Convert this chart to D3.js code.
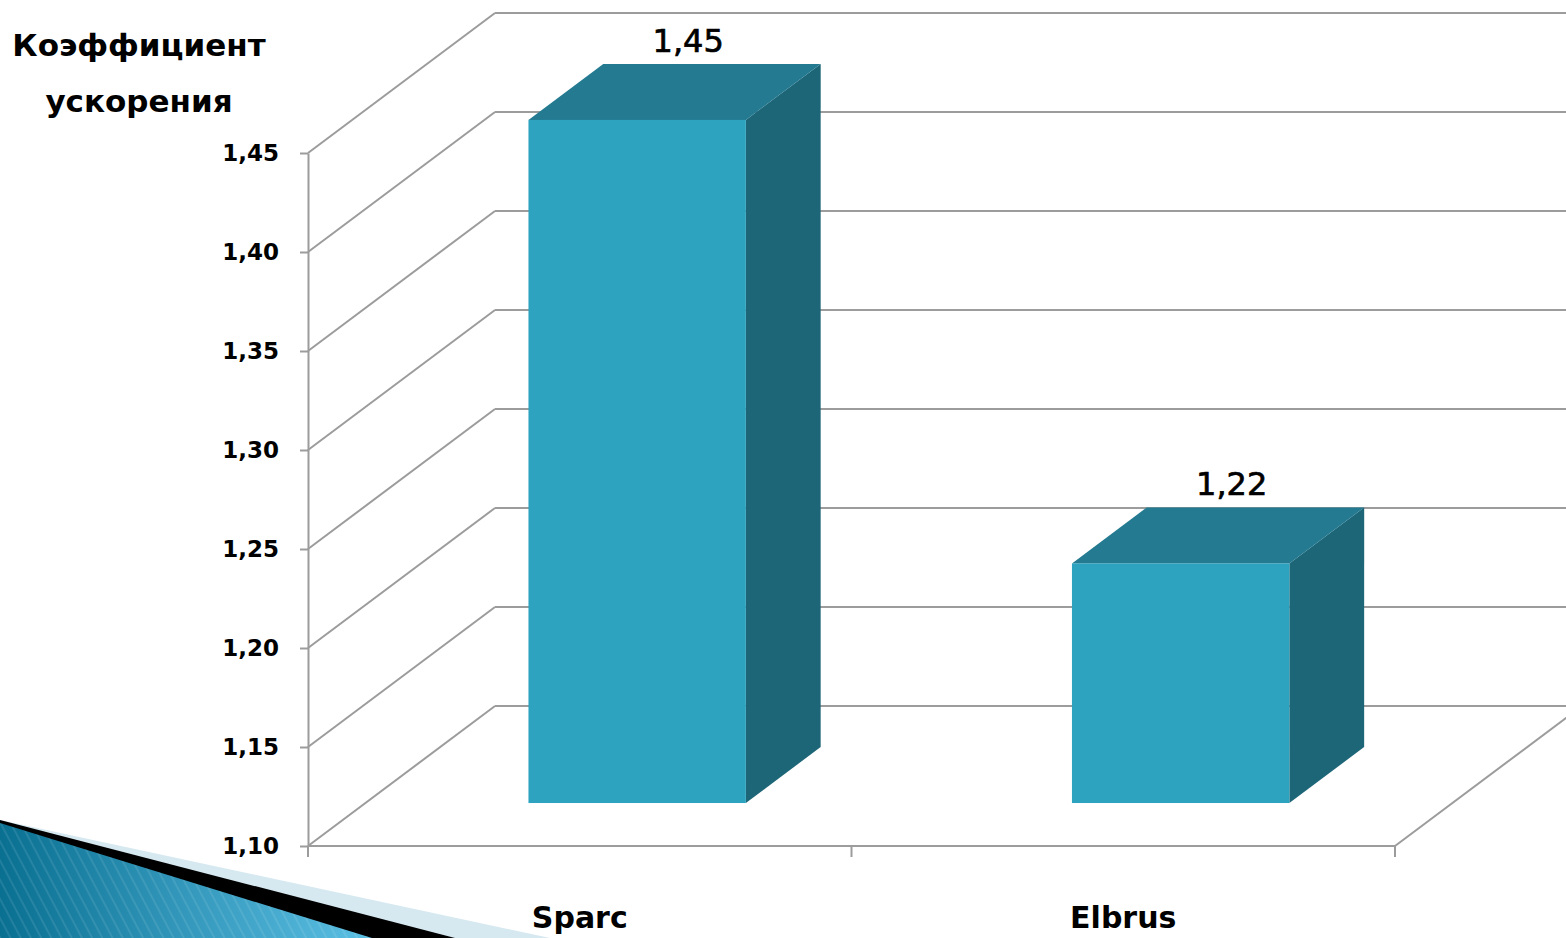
<!DOCTYPE html>
<html>
<head>
<meta charset="utf-8">
<script src="https://cdn.jsdelivr.net/npm/d3@7"></script>
<style>
  html, body { margin: 0; padding: 0; background: #fff; }
  svg { display: block; }
</style>
</head>
<body>
<div class="chart"></div>
<script>
// data
const categories = ["Sparc", "Elbrus"];
const values = [1.445, 1.221];
const yTicks = [1.10, 1.15, 1.20, 1.25, 1.30, 1.35, 1.40, 1.45];
const titleLines = ["Коэффициент", "ускорения"];

const w = 1566;
const h = 938;

// 3d offset of the back wall
const depth = { x: 187, y: -140 };
const barFront = 0.307, barBack = 0.707;

const gridColor = "#9c9c9c";
const colFront = "#2da3c0", colTop = "#237a91", colSide = "#1d6678";

const ru = d3.formatLocale({ decimal: ",", thousands: " ", grouping: [3], currency: ["", ""] });
const fmt = ru.format(".2f");

const svg = d3.select(".chart").append("svg")
    .attr("width", w)
    .attr("height", h);

// decoration in the lower left corner
const defs = svg.append("defs");
const grad = defs.append("linearGradient").attr("id", "blueGrad")
    .attr("x1", 0).attr("y1", 0).attr("x2", 1).attr("y2", 0);
grad.append("stop").attr("offset", "0%").attr("stop-color", "#0a7092");
grad.append("stop").attr("offset", "100%").attr("stop-color", "#5cc0e4");
const pat = defs.append("pattern").attr("id", "stripes")
    .attr("patternUnits", "userSpaceOnUse")
    .attr("width", 9).attr("height", 9)
    .attr("patternTransform", "rotate(-28)");
pat.append("line").attr("x1", 1).attr("y1", 0).attr("x2", 1).attr("y2", 9)
    .attr("stroke", "#ffffff").attr("stroke-opacity", 0.12).attr("stroke-width", 1.5);

const deco = svg.append("g");
deco.append("path").attr("d", "M0,820 L550,938 L0,938 Z").attr("fill", "#d6e9f1");
deco.append("path").attr("d", "M0,820 L455,938 L0,938 Z").attr("fill", "#000");
deco.append("path").attr("d", "M0,823 L372,938 L0,938 Z").attr("fill", "url(#blueGrad)");
deco.append("path").attr("d", "M0,823 L372,938 L0,938 Z").attr("fill", "url(#stripes)");

// scales
const y = d3.scaleLinear().domain([1.10, 1.45]).range([846, 153]);
const x = d3.scaleBand().domain(categories).range([308, 1395])
    .paddingInner(0.6).paddingOuter(0.3);
const x0 = x.range()[0], x1 = x.range()[1];

// walls and gridlines
const grid = svg.append("g")
    .attr("stroke", gridColor).attr("stroke-width", 2).attr("fill", "none");

grid.selectAll("line.back").data(yTicks).enter().append("line")
    .attr("class", "back")
    .attr("x1", x0 + depth.x).attr("x2", w + 5)
    .attr("y1", d => y(d) + depth.y).attr("y2", d => y(d) + depth.y);

grid.selectAll("line.side").data(yTicks).enter().append("line")
    .attr("class", "side")
    .attr("x1", x0).attr("y1", d => y(d))
    .attr("x2", x0 + depth.x).attr("y2", d => y(d) + depth.y);

// floor: front edge and right edge
grid.append("line")
    .attr("x1", x0).attr("x2", x1)
    .attr("y1", y(1.10)).attr("y2", y(1.10));
grid.append("line")
    .attr("x1", x1).attr("y1", y(1.10))
    .attr("x2", x1 + depth.x).attr("y2", y(1.10) + depth.y);

// category ticks
const edges = d3.range(categories.length + 1).map(i => x0 + i * x.step());
grid.selectAll("line.xtick").data(edges).enter().append("line")
    .attr("class", "xtick")
    .attr("x1", d => d).attr("x2", d => d)
    .attr("y1", y(1.10)).attr("y2", y(1.10) + 11);

// value axis
const yAxis = svg.append("g")
    .attr("transform", `translate(${x0},0)`)
    .call(d3.axisLeft(y).tickValues(yTicks).tickFormat(fmt).tickSize(8).tickSizeOuter(0).tickPadding(21));
yAxis.select(".domain").attr("stroke", gridColor).attr("stroke-width", 2);
yAxis.selectAll(".tick line").attr("stroke", gridColor).attr("stroke-width", 2);
yAxis.selectAll(".tick text")
    .attr("font-family", "DejaVu Sans")
    .attr("font-weight", "bold")
    .attr("font-size", 23)
    .attr("fill", "#000");

// bars
const bars = categories.map((c, i) => {
    const fx = x(c) + depth.x * barFront;
    const fy = depth.y * barFront;
    const bw = x.bandwidth();
    const dx = depth.x * (barBack - barFront);
    const dy = depth.y * (barBack - barFront);
    const top = y(values[i]) + fy;
    const bot = y(1.10) + fy;
    return { c, v: values[i], fx, bw, dx, dy, top, bot };
});

const barG = svg.append("g").selectAll("g").data(bars).enter().append("g");

barG.append("path")
    .attr("fill", colSide)
    .attr("d", d => `M${d.fx + d.bw},${d.top} L${d.fx + d.bw + d.dx},${d.top + d.dy} L${d.fx + d.bw + d.dx},${d.bot + d.dy} L${d.fx + d.bw},${d.bot} Z`);

barG.append("path")
    .attr("fill", colTop)
    .attr("d", d => `M${d.fx},${d.top} L${d.fx + d.dx},${d.top + d.dy} L${d.fx + d.bw + d.dx},${d.top + d.dy} L${d.fx + d.bw},${d.top} Z`);

barG.append("rect")
    .attr("fill", colFront)
    .attr("x", d => d.fx)
    .attr("y", d => d.top)
    .attr("width", d => d.bw)
    .attr("height", d => d.bot - d.top);

// value labels
barG.append("text")
    .attr("x", d => x(d.c) + x.bandwidth() / 2 + depth.x * 0.58)
    .attr("y", d => d.top + d.dy - 12)
    .attr("text-anchor", "middle")
    .attr("font-family", "DejaVu Sans")
    .attr("font-size", 32)
    .attr("fill", "#000")
    .attr("stroke", "#000")
    .attr("stroke-width", 0.7)
    .text(d => fmt(d.v));

// category labels
svg.append("g").selectAll("text").data(categories).enter().append("text")
    .attr("x", d => x(d) + x.bandwidth() / 2)
    .attr("y", 928)
    .attr("text-anchor", "middle")
    .attr("font-family", "DejaVu Sans")
    .attr("font-weight", "bold")
    .attr("font-size", 30)
    .attr("fill", "#000")
    .text(d => d);

// axis title
svg.append("g").selectAll("text").data(titleLines).enter().append("text")
    .attr("x", 139)
    .attr("y", (d, i) => 56 + i * 56)
    .attr("text-anchor", "middle")
    .attr("font-family", "DejaVu Sans")
    .attr("font-weight", "bold")
    .attr("font-size", 31)
    .attr("fill", "#000")
    .text(d => d);
</script>
</body>
</html>
